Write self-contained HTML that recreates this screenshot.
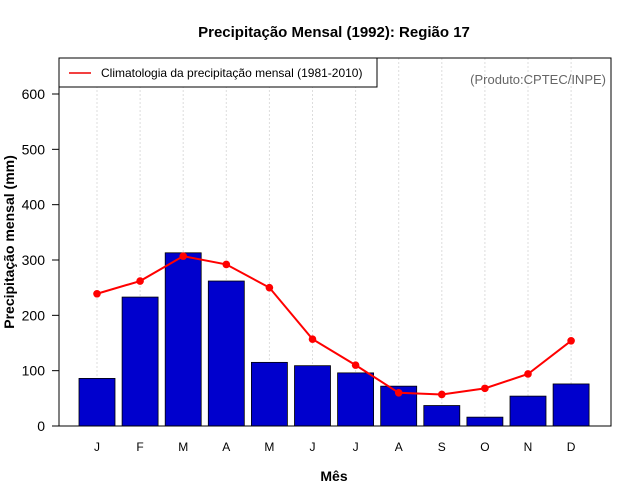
<!DOCTYPE html>
<html><head><meta charset="utf-8"><style>
body{margin:0;background:#fff;}
svg{display:block;font-family:"Liberation Sans",sans-serif;}
</style></head><body>
<svg id="chart" width="640" height="500">
<rect width="640" height="500" fill="#fff"/>
<text x="334" y="37" text-anchor="middle" font-size="15" font-weight="bold">Precipitação Mensal (1992): Região 17</text>
<g id="grid"></g>
<g id="bars"></g>
<g id="line"></g>
<rect x="59" y="58" width="552" height="368" fill="none" stroke="#000"/>
<g id="yaxis"></g>
<g id="xaxis"></g>
<text x="334" y="481" text-anchor="middle" font-size="14" font-weight="bold">Mês</text>
<text transform="translate(14,242) rotate(-90)" text-anchor="middle" font-size="14" font-weight="bold">Precipitação mensal (mm)</text>
<g>
<rect x="59" y="58" width="318" height="29" fill="#fff" stroke="#000"/>
<line x1="69" y1="73" x2="91" y2="73" stroke="#e00" stroke-width="1.5"/>
<text x="101" y="77" font-size="12">Climatologia da precipitação mensal (1981-2010)</text>
</g>
<text x="606" y="84" text-anchor="end" font-size="13" fill="#666">(Produto:CPTEC/INPE)</text>
</svg>
<script>
const months = ["J","F","M","A","M","J","J","A","S","O","N","D"];
const precip1992 = [86,233,313,262,115,109,96,72,37,16,54,76];
const climatology = [239,262,307,292,250,157,110,60,57,68,94,154];
const yTicks = [0,100,200,300,400,500,600];

const NS="http://www.w3.org/2000/svg";
const yScale = v => 426 - v*(332/600);
const xScale = i => 97 + i*43.1;
function mk(tag, attrs, parent){const e=document.createElementNS(NS,tag);for(const k in attrs)e.setAttribute(k,attrs[k]);parent.appendChild(e);return e;}
const grid=document.getElementById('grid'), bars=document.getElementById('bars'), line=document.getElementById('line'), yaxis=document.getElementById('yaxis'), xaxis=document.getElementById('xaxis');

months.forEach((m,i)=>{
  const g=mk('line',{x1:xScale(i),x2:xScale(i),y1:58,y2:426,stroke:'#ddd','stroke-dasharray':'2,2'},grid);
  
  
  const t=mk('text',{x:xScale(i),y:451,'text-anchor':'middle','font-size':12},xaxis);
  t.textContent=m;
  
  
});
precip1992.forEach((v,i)=>{
  const b=mk('rect',{x:xScale(i)-18,y:yScale(v),width:36,height:426-yScale(v),fill:'#0000cd',stroke:'#000','stroke-width':0.8},bars);
  
  
});
const pts=climatology.map((v,i)=>xScale(i)+','+yScale(v)).join(' ');
const pl=mk('polyline',{points:pts,fill:'none',stroke:'#f00','stroke-width':2},line);


climatology.forEach((v,i)=>{
  const c=mk('circle',{cx:xScale(i),cy:yScale(v),r:3.8,fill:'#f00'},line);
  
  
});
yTicks.forEach(v=>{
  const l=mk('line',{x1:52,x2:59,y1:yScale(v),y2:yScale(v),stroke:'#000'},yaxis);
  
  
  const t=mk('text',{x:45,y:yScale(v)+5,'text-anchor':'end','font-size':14},yaxis);
  t.textContent=v;
  
  
});
</script>
</body></html>
